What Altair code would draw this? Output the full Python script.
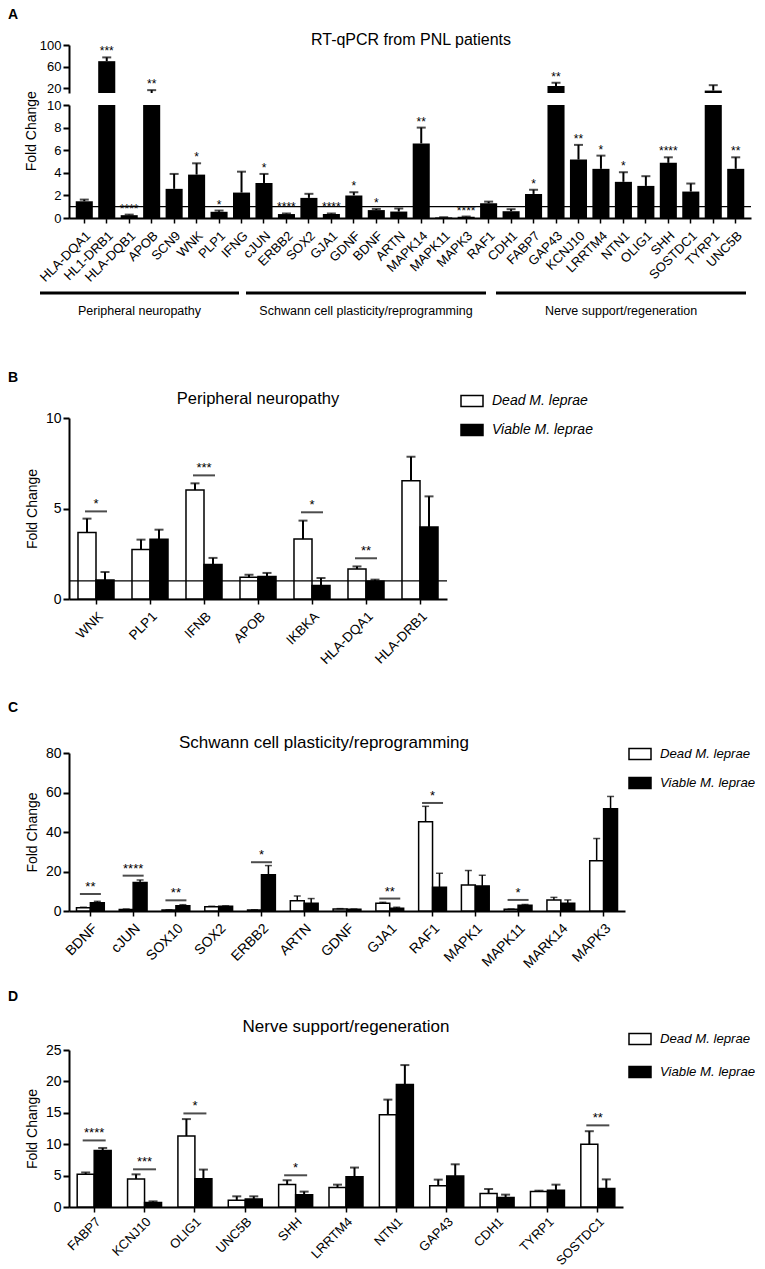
import altair as alt
import pandas as pd

FONT = "Liberation Sans"

# ---------------- Panel A data ----------------
a_title = "RT-qPCR from PNL patients"
a_genes = ["HLA-DQA1", "HL1-DRB1", "HLA-DQB1", "APOB", "SCN9", "WNK", "PLP1", "IFNG",
           "cJUN", "ERBB2", "SOX2", "GJA1", "GDNF", "BDNF", "ARTN", "MAPK14", "MAPK11",
           "MAPK3", "RAF1", "CDH1", "FABP7", "GAP43", "KCNJ10", "LRRTM4", "NTN1", "OLIG1",
           "SHH", "SOSTDC1", "TYRP1", "UNC5B"]
a_values = [1.48, 70, 0.25, 10.8, 2.58, 3.84, 0.55, 2.25, 3.1, 0.35, 1.78, 0.35, 2.0, 0.7,
            0.57, 6.6, 0.05, 0.1, 1.3, 0.6, 2.13, 24, 5.17, 4.35, 3.2, 2.84, 4.88, 2.34,
            15.5, 4.35]
a_errors = [1.63, 77, 0.3, 16.3, 3.9, 4.84, 0.66, 4.1, 3.9, 0.4, 2.14, 0.4, 2.28, 0.8,
            0.84, 8.0, 0.07, 0.13, 1.45, 0.78, 2.5, 30, 6.47, 5.52, 4.05, 3.7, 5.37, 3.05,
            25.5, 5.37]
a_stars = ["", "***", "****", "**", "", "*", "*", "", "*", "****", "", "****", "*", "*",
           "", "**", "", "****", "", "", "*", "**", "**", "*", "*", "", "****", "", "", "**"]
a_groups = ["Peripheral neuropathy", "Schwann cell plasticity/reprogramming",
            "Nerve support/regeneration"]

# ---------------- Panel B data ----------------
conds = ["Dead M. leprae", "Viable M. leprae"]
b_title = "Peripheral neuropathy"
b_genes = ["WNK", "PLP1", "IFNB", "APOB", "IKBKA", "HLA-DQA1", "HLA-DRB1"]
b_dead = [3.68, 2.73, 6.02, 1.2, 3.31, 1.66, 6.54]
b_dead_err = [4.44, 3.28, 6.39, 1.34, 4.33, 1.8, 7.86]
b_viable = [1.05, 3.3, 1.9, 1.25, 0.75, 0.98, 3.98]
b_viable_err = [1.49, 3.83, 2.27, 1.44, 1.16, 1.07, 5.67]
b_sig = [4.84, None, 6.83, None, 4.79, 2.25, None]
b_stars = ["*", "", "***", "", "*", "**", ""]

# ---------------- Panel C data ----------------
c_title = "Schwann cell plasticity/reprogramming"
c_genes = ["BDNF", "cJUN", "SOX10", "SOX2", "ERBB2", "ARTN", "GDNF", "GJA1", "RAF1",
           "MAPK1", "MAPK11", "MARK14", "MAPK3"]
c_dead = [1.7, 0.8, 0.5, 2.2, 0.5, 5.2, 1.0, 3.9, 45.2, 13.2, 0.85, 5.6, 25.5]
c_dead_err = [1.9, 1.0, 0.6, 2.4, 0.6, 7.6, 1.2, 4.4, 53, 20.5, 1.0, 6.9, 36.7]
c_viable = [4.2, 14.4, 2.7, 2.4, 18.3, 3.9, 0.85, 1.4, 12, 12.7, 2.9, 3.9, 51.8]
c_viable_err = [4.9, 15.7, 3.2, 2.6, 23, 6.3, 1.0, 1.9, 19.1, 18.1, 3.3, 5.6, 58]
c_sig = [8.6, 17.9, 5.4, None, 24.7, None, None, 6.3, 54.7, None, 5.6, None, None]
c_stars = ["**", "****", "**", "", "*", "", "", "**", "*", "", "*", "", ""]

# ---------------- Panel D data ----------------
d_title = "Nerve support/regeneration"
d_genes = ["FABP7", "KCNJ10", "OLIG1", "UNC5B", "SHH", "LRRTM4", "NTN1", "GAP43", "CDH1",
           "TYRP1", "SOSTDC1"]
d_dead = [5.2, 4.47, 11.3, 1.06, 3.6, 3.1, 14.7, 3.4, 2.13, 2.45, 10.0]
d_dead_err = [5.5, 5.2, 14.0, 1.7, 4.26, 3.56, 17.1, 4.36, 2.87, 2.6, 12.07]
d_viable = [9.0, 0.7, 4.5, 1.28, 1.97, 4.8, 19.5, 4.95, 1.5, 2.66, 2.93]
d_viable_err = [9.4, 0.9, 5.96, 1.7, 2.45, 6.28, 22.6, 6.8, 1.97, 3.56, 4.4]
d_sig = [10.6, 6.0, 14.9, None, 5.05, None, None, None, None, None, 13.0]
d_stars = ["****", "***", "*", "", "*", "", "", "", "", "", "**"]


# ---------------- helpers ----------------
def yaxis(values, title=None, title_y=None, title_pad=6, fs=14):
    kw = dict(values=values, title=title, grid=False, domainColor="black", domainWidth=2,
              tickColor="black", tickWidth=2, tickSize=6, labelFontSize=fs,
              labelColor="black", labelFont=FONT, labelPadding=2, titleFont=FONT,
              titleFontSize=14, titleFontWeight="normal", titleColor="black",
              titlePadding=title_pad)
    if title_y is not None:
        kw["titleY"] = title_y
    return alt.Axis(**kw)


def xaxis(fs, pad):
    return alt.Axis(title=None, labelAngle=-45, labelFontSize=fs,
                    labelFont=FONT, labelColor="black", labelOverlap=False,
                    domainColor="black", domainWidth=2, tickColor="black", tickWidth=1.5,
                    tickSize=5, labelPadding=pad, labelAlign="right", labelBaseline="top")


def text_layer(txt, x, y, size, weight="normal", align="center"):
    return alt.Chart(pd.DataFrame({"t": [txt]})).mark_text(
        fontSize=size, fontWeight=weight, align=align, baseline="middle", color="black",
        font=FONT).encode(text="t:N", x=alt.value(x), y=alt.value(y))


def spacer(h):
    return alt.Chart(pd.DataFrame({"s": [0]})).mark_point(opacity=0).encode(
        x=alt.value(0), y=alt.value(0)).properties(width=1, height=h)


# ---------------- Panel A ----------------
A_W = 682
a_df = pd.DataFrame({"gene": a_genes, "value": a_values, "err": a_errors, "stars": a_stars})
xA_scale = alt.Scale(domain=a_genes, paddingInner=0.24, paddingOuter=0.3)


def a_layers(yscale, yax, xax, star_filter):
    base = alt.Chart(a_df)
    x = alt.X("gene:N", sort=a_genes, scale=xA_scale, axis=xax)
    bars = base.mark_bar(color="black", clip=True).encode(
        x=x, y=alt.Y("value:Q", scale=yscale, axis=yax))
    err = base.mark_rule(color="black", strokeWidth=2, clip=True).encode(
        x=x, y=alt.Y("value:Q", scale=yscale, axis=yax), y2="err:Q")
    cap = base.mark_tick(color="black", thickness=2, size=9, clip=True).encode(
        x=x, y=alt.Y("err:Q", scale=yscale, axis=yax))
    stars = base.transform_filter(star_filter).mark_text(
        fontSize=12, baseline="alphabetic", dy=-2, color="black", font=FONT).encode(
        x=x, y=alt.Y("err:Q", scale=yscale, axis=yax), text="stars:N")
    return [bars, err, cap, stars]


up_scale = alt.Scale(domain=[11, 100], nice=False, zero=False)
up_yax = yaxis([20, 60, 100], fs=13)
upper = alt.layer(
    *a_layers(up_scale, up_yax, None, "datum.err > 10 && datum.stars != ''"),
    text_layer(a_title, 342, -5, 16),
    text_layer("A", -61, -30, 14, "bold", "left"),
).properties(width=A_W, height=48)

lo_scale = alt.Scale(domain=[0, 10], nice=False)
lo_yax = yaxis([0, 2, 4, 6, 8, 10], title="Fold Change", title_y=25.7, title_pad=8, fs=13)
ref_a = alt.Chart(pd.DataFrame({"ref": [1]})).mark_rule(color="black", strokeWidth=1.2).encode(
    y=alt.Y("ref:Q", scale=lo_scale, axis=lo_yax))

group_spans = [(-29, 170), (177, 417), (427, 677)]
group_layers = []
for name, (g0, g1) in zip(a_groups, group_spans):
    gdf = pd.DataFrame({"t": [name]})
    group_layers.append(alt.Chart(gdf).mark_rule(color="black", strokeWidth=3).encode(
        x=alt.value(g0), x2=alt.value(g1), y=alt.value(188)))
    group_layers.append(alt.Chart(gdf).mark_text(fontSize=12.5, color="black", font=FONT).encode(
        text="t:N", x=alt.value((g0 + g1) / 2), y=alt.value(206)))

lower = alt.layer(
    *a_layers(lo_scale, lo_yax, xaxis(13, 6), "datum.err <= 10 && datum.stars != ''"),
    ref_a, *group_layers,
).properties(width=A_W, height=113)


# ---------------- grouped panels ----------------
def grouped_panel(genes, dead, dead_err, viable, viable_err, sig, stars, title, letter,
                  ymax, yticks, width, height, pi, cap, errw, title_x, title_y, title_fs,
                  letter_y, legend_x, legend_y, row_pad, legend_fs, refline, xfs, xpad, sigw):
    df = pd.DataFrame({
        "gene": genes * 2,
        "cond": [conds[0]] * len(genes) + [conds[1]] * len(genes),
        "value": dead + viable,
        "err": dead_err + viable_err,
    })
    sdf = pd.DataFrame({"gene": genes, "line": sig, "stars": stars}).dropna()
    ys = alt.Scale(domain=[0, ymax], nice=False)
    yax = yaxis(yticks, title="Fold Change", title_pad=6)
    x = alt.X("gene:N", sort=genes, scale=alt.Scale(domain=genes, paddingInner=pi,
                                                    paddingOuter=pi / 2),
              axis=xaxis(xfs, xpad))
    xo = alt.XOffset("cond:N", sort=conds,
                     scale=alt.Scale(domain=conds, paddingInner=0, paddingOuter=0))
    base = alt.Chart(df)
    bars = base.mark_bar(stroke="black", strokeWidth=1.5).encode(
        x=x, xOffset=xo, y=alt.Y("value:Q", scale=ys, axis=yax),
        fill=alt.Fill("cond:N", sort=conds,
                      scale=alt.Scale(domain=conds, range=["white", "black"]),
                      legend=alt.Legend(title=None, orient="none", legendX=legend_x,
                                        legendY=legend_y, direction="vertical",
                                        symbolType="M-1,-0.5H1V0.5H-1Z", symbolSize=484,
                                        symbolStrokeColor="black", symbolStrokeWidth=1.5,
                                        labelFontSize=legend_fs, labelFont=FONT,
                                        labelFontStyle="italic", labelColor="black",
                                        labelOffset=8, rowPadding=row_pad, padding=0,
                                        labelLimit=300)))
    err = base.mark_rule(color="black", strokeWidth=errw).encode(
        x=x, xOffset=xo, y=alt.Y("value:Q", scale=ys, axis=yax), y2="err:Q")
    caps = base.mark_tick(color="black", thickness=errw, size=cap).encode(
        x=x, xOffset=xo, y=alt.Y("err:Q", scale=ys, axis=yax))
    sbase = alt.Chart(sdf)
    sline = sbase.mark_tick(color="black", thickness=2, size=sigw).encode(
        x=x, y=alt.Y("line:Q", scale=ys, axis=yax))
    stext = sbase.mark_text(fontSize=13, baseline="alphabetic", dy=-3, color="black",
                            font=FONT).encode(
        x=x, y=alt.Y("line:Q", scale=ys, axis=yax), text="stars:N")
    layers = [bars, err, caps]
    if refline:
        layers.append(alt.Chart(pd.DataFrame({"ref": [1]})).mark_rule(
            color="black", strokeWidth=1.2).encode(y=alt.Y("ref:Q", scale=ys, axis=yax)))
    layers += [sline, stext,
               text_layer(title, title_x, title_y, title_fs),
               text_layer(letter, -61, letter_y, 14, "bold", "left")]
    return alt.layer(*layers).properties(width=width, height=height)


panelB = grouped_panel(b_genes, b_dead, b_dead_err, b_viable, b_viable_err, b_sig, b_stars,
                       b_title, "B", 10, [0, 5, 10], 378, 181, 0.333, 9, 2,
                       189, -19, 16.5, -40, 391, -29, 8, 14, True, 13.5, 5, 22)
panelC = grouped_panel(c_genes, c_dead, c_dead_err, c_viable, c_viable_err, c_sig, c_stars,
                       c_title, "C", 80, [0, 20, 40, 60, 80], 556, 158, 0.35, 7, 1.5,
                       255, -10, 17, -45, 559, -11, 8, 13.2, False, 14, 5, 21)
panelD = grouped_panel(d_genes, d_dead, d_dead_err, d_viable, d_viable_err, d_sig, d_stars,
                       d_title, "D", 25, [0, 5, 10, 15, 20, 25], 554, 157, 0.325, 9, 2,
                       277, -23, 17, -53, 559, -23, 12, 13.2, False, 13, 3, 23)

chart = alt.vconcat(
    upper, spacer(12), lower, spacer(200), panelB, spacer(154), panelC, spacer(139),
    panelD, spacing=0, bounds="flush",
).resolve_scale(
    x="independent", y="independent", fill="independent", xOffset="independent"
).resolve_legend(fill="independent").resolve_axis(
    x="independent", y="independent"
).properties(padding=0).configure(
    font=FONT, view=alt.ViewConfig(stroke=None)
)

chart.save("out.html", embed_options={"renderer": "svg", "actions": False})
